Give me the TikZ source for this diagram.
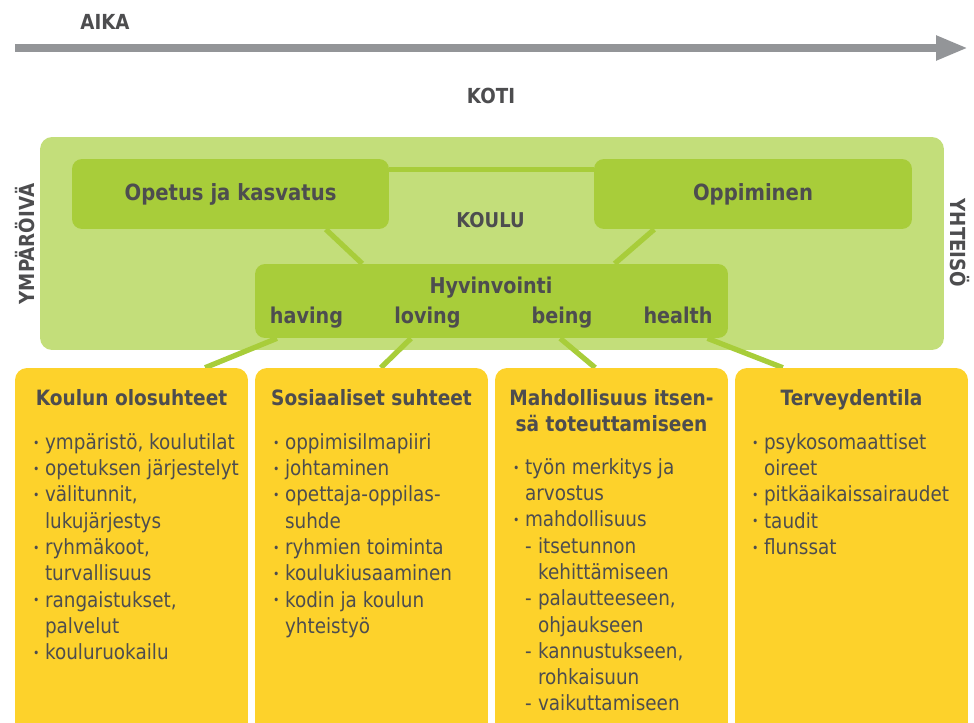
\documentclass[tikz,border=0pt]{standalone}
\usepackage{fontspec}
\setmainfont{DejaVu Sans}[FakeStretch=0.88]
\usetikzlibrary{positioning,calc,arrows.meta}

\definecolor{koulugreen}{RGB}{195,222,122}
\definecolor{boxgreen}{RGB}{168,205,58}
\definecolor{boxyellow}{RGB}{253,210,43}
\definecolor{txtgray}{RGB}{77,77,79}
\definecolor{aikagray}{RGB}{147,149,152}

\pgfdeclarelayer{back}
\pgfdeclarelayer{links}
\pgfsetlayers{back,links,main}

\newcommand{\bul}{\makebox[0.24cm][l]{\raisebox{0.2ex}{\fontsize{7}{7}\selectfont\textbullet}}}
\newcommand{\ind}{\makebox[0.24cm]{}}
\newcommand{\das}{\makebox[0.26cm][l]{-}}
\newcommand{\dind}{\makebox[0.26cm]{}}

\tikzset{
  kouluarea/.style={fill=koulugreen, rounded corners=0.24cm, minimum width=18.08cm, minimum height=4.26cm},
  greenbox/.style={fill=boxgreen, rounded corners=0.2cm, text=txtgray, font=\fontsize{12.7}{15}\selectfont\bfseries},
  yellowbox/.style={fill=boxyellow, rounded corners=0.24cm, minimum width=4.66cm, minimum height=7.6cm},
  boxhead/.style={text=txtgray, font=\fontsize{12}{15.3}\selectfont\bfseries, align=center, inner sep=0pt},
  boxitems/.style={text=txtgray, font=\fontsize{11.9}{14.96}\selectfont, align=left, inner sep=0pt},
  wellword/.style={text=txtgray, font=\fontsize{12.4}{14}\selectfont\bfseries, inner sep=0pt, anchor=base},
  outertext/.style={text=txtgray, font=\fontsize{11.8}{13}\selectfont\bfseries},
  connect/.style={draw=boxgreen, line width=3pt},
}

\begin{document}
\begin{tikzpicture}[x=0.02cm, y=-0.02cm]
  \clip (0,0) rectangle (974,723);

  % aika
  \node[outertext] (aika) at (105,22) {AIKA};
  \coordinate (t0) at (15,48);
  \coordinate (t1) at (968,48);
  \draw[aikagray, line width=4.5pt, -{Triangle[length=0.64cm,width=0.46cm]}] (t0) -- (t1);
  \node[outertext] (koti) at (491,96) {KOTI};

  % koulu
  \begin{pgfonlayer}{back}
    \node[kouluarea] (koulu) at (492,243.5) {};
  \end{pgfonlayer}
  \node[outertext, rotate=90] (ymp) at (25,244) {YMPÄRÖIVÄ};
  \node[outertext, rotate=-90] (yht) at (960,243) {YHTEISÖ};

  \node[greenbox, minimum width=6.34cm, minimum height=1.4cm] (opetus) at (230.5,194) {Opetus ja kasvatus};
  \node[greenbox, minimum width=6.36cm, minimum height=1.4cm] (oppi) at (753,194) {Oppiminen};
  \node[outertext, font=\fontsize{11.6}{13}\selectfont\bfseries] (kouluname) at (490.5,220) {KOULU};

  \node[greenbox, minimum width=9.46cm, minimum height=1.48cm] (hyv) at (491.5,301) {};
  \node[wellword] (hyvtxt) at (491,293) {Hyvinvointi};
  \node[wellword] (having) at (306.5,323) {having};
  \node[wellword] (loving) at (427.5,323) {loving};
  \node[wellword] (being) at (562,323) {being};
  \node[wellword] (health) at (678,323) {health};

  % osatekijat
  \node[yellowbox] (olo) at (131.5,558) {};
  \node[yellowbox] (sos) at (371.5,558) {};
  \node[yellowbox] (mahd) at (611.5,558) {};
  \node[yellowbox] (terv) at (851.5,558) {};

  \node[boxhead, anchor=north] (olohead) at ([yshift=-0.42cm]olo.north) {Koulun olosuhteet};
  \node[boxhead, anchor=north] (soshead) at ([yshift=-0.42cm]sos.north) {Sosiaaliset suhteet};
  \node[boxhead, anchor=north] (mahdhead) at ([yshift=-0.42cm]mahd.north) {Mahdollisuus itsen-\\sä toteuttamiseen};
  \node[boxhead, anchor=north] (tervhead) at ([yshift=-0.42cm]terv.north) {Terveydentila};

  \node[boxitems, anchor=north west] (oloitems) at ([xshift=0.36cm, yshift=-1.31cm]olo.north west)
    {\bul ympäristö, koulutilat\\
     \bul opetuksen järjestelyt\\
     \bul välitunnit,\\
     \ind lukujärjestys\\
     \bul ryhmäkoot,\\
     \ind turvallisuus\\
     \bul rangaistukset,\\
     \ind palvelut\\
     \bul kouluruokailu};
  \node[boxitems, anchor=north west] (sositems) at ([xshift=0.36cm, yshift=-1.31cm]sos.north west)
    {\bul oppimisilmapiiri\\
     \bul johtaminen\\
     \bul opettaja-oppilas-\\
     \ind suhde\\
     \bul ryhmien toiminta\\
     \bul koulukiusaaminen\\
     \bul kodin ja koulun\\
     \ind yhteistyö};
  \node[boxitems, anchor=north west] (mahditems) at ([xshift=0.36cm, yshift=-1.81cm]mahd.north west)
    {\bul työn merkitys ja\\
     \ind arvostus\\
     \bul mahdollisuus\\
     \ind\das itsetunnon\\
     \ind\dind kehittämiseen\\
     \ind\das palautteeseen,\\
     \ind\dind ohjaukseen\\
     \ind\das kannustukseen,\\
     \ind\dind rohkaisuun\\
     \ind\das vaikuttamiseen};
  \node[boxitems, anchor=north west] (tervitems) at ([xshift=0.34cm, yshift=-1.31cm]terv.north west)
    {\bul psykosomaattiset\\
     \ind oireet\\
     \bul pitkäaikaissairaudet\\
     \bul taudit\\
     \bul flunssat};

  % yhteydet
  \begin{pgfonlayer}{links}
    \draw[connect] ([yshift=-0.22cm]opetus.north east) -- ([yshift=-0.22cm]oppi.north west);
    \draw[connect] ($(opetus.south west)!0.8!(opetus.south east)$) -- ($(hyv.north west)!0.227!(hyv.north east)$);
    \draw[connect] ($(oppi.south west)!0.19!(oppi.south east)$) -- ($(hyv.north west)!0.76!(hyv.north east)$);
    \draw[connect] ($(hyv.south west)!0.047!(hyv.south east)$) -- ($(olo.north west)!0.815!(olo.north east)$);
    \draw[connect] ($(hyv.south west)!0.33!(hyv.south east)$) -- ($(sos.north west)!0.54!(sos.north east)$);
    \draw[connect] ($(hyv.south west)!0.645!(hyv.south east)$) -- ($(mahd.north west)!0.43!(mahd.north east)$);
    \draw[connect] ($(hyv.south west)!0.956!(hyv.south east)$) -- ($(terv.north west)!0.206!(terv.north east)$);
  \end{pgfonlayer}
\end{tikzpicture}
\end{document}
